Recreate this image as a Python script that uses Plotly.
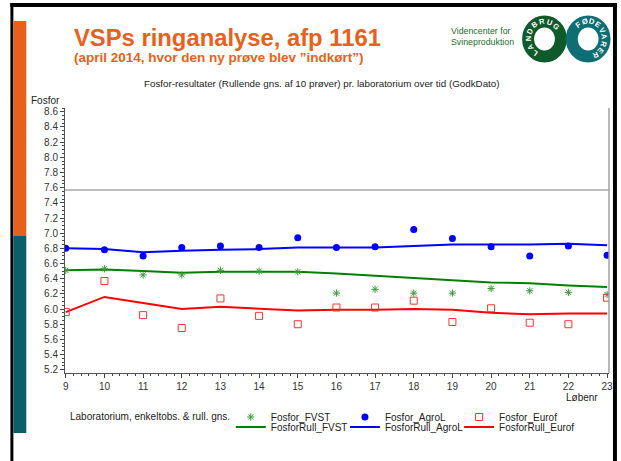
import math
import plotly.graph_objects as go

# Data
loebenr = list(range(9, 24))
fosfor_fvst = [6.51, 6.53, 6.45, 6.45, 6.51, 6.50, 6.49, 6.21, 6.26, 6.21, 6.21, 6.27, 6.24, 6.22, 6.19]
fosfor_agrol = [6.80, 6.78, 6.70, 6.81, 6.83, 6.81, 6.94, 6.81, 6.82, 7.05, 6.93, 6.82, 6.70, 6.83, 6.71]
fosfor_eurof = [5.96, 6.37, 5.92, 5.75, 6.14, 5.91, 5.80, 6.02, 6.02, 6.11, 5.83, 6.01, 5.82, 5.80, 6.15]
rull_fvst = [6.51, 6.52, 6.50, 6.48, 6.49, 6.49, 6.49, 6.47, 6.44, 6.41, 6.38, 6.35, 6.34, 6.31, 6.29]
rull_agrol = [6.80, 6.79, 6.75, 6.77, 6.78, 6.79, 6.81, 6.81, 6.81, 6.83, 6.85, 6.85, 6.85, 6.86, 6.84]
rull_eurof = [5.96, 6.16, 6.08, 6.00, 6.03, 6.01, 5.98, 5.99, 5.99, 6.00, 5.99, 5.95, 5.93, 5.94, 5.94]
graense = 7.57
y_ticks = [5.2, 5.4, 5.6, 5.8, 6.0, 6.2, 6.4, 6.6, 6.8, 7.0, 7.2, 7.4, 7.6, 7.8, 8.0, 8.2, 8.4, 8.6]

# Farben
orange = '#E8611C'
teal = '#0B5F6B'
groen = '#008000'
groen_stjerne = '#3A9A3A'
blaa = '#0000FF'
roed = '#FF0000'
font = 'Liberation Sans, Arial, sans-serif'

W, H = 621, 461
L, R, T, B = 65, 8, 108, 88
PW, PH = W - L - R, H - T - B


# pixel -> paper coordinates
def px(x):
    return (x - L) / PW


def py(y):
    return (H - B - y) / PH


fig = go.Figure()

# rullende gennemsnit (linjer)
fig.add_trace(go.Scatter(x=loebenr, y=rull_fvst, mode='lines', name='FosforRull_FVST',
                         line=dict(color=groen, width=2), legend='legend4'))
fig.add_trace(go.Scatter(x=loebenr, y=rull_agrol, mode='lines', name='FosforRull_AgroL',
                         line=dict(color=blaa, width=2), legend='legend5'))
fig.add_trace(go.Scatter(x=loebenr, y=rull_eurof, mode='lines', name='FosforRull_Eurof',
                         line=dict(color=roed, width=2), legend='legend6'))

# enkeltobservationer
fig.add_trace(go.Scatter(x=loebenr, y=fosfor_fvst, mode='markers', name='Fosfor_FVST',
                         marker=dict(symbol='asterisk-open', size=6, color=groen_stjerne,
                                     line=dict(color=groen_stjerne, width=1)),
                         legend='legend'))
fig.add_trace(go.Scatter(x=loebenr, y=fosfor_agrol, mode='markers', name='Fosfor_AgroL',
                         marker=dict(symbol='circle', size=7, color=blaa),
                         legend='legend2'))
fig.add_trace(go.Scatter(x=loebenr, y=fosfor_eurof, mode='markers', name='Fosfor_Eurof',
                         marker=dict(symbol='square-open', size=7, color='#FF3333',
                                     line=dict(color='#FF3333', width=1)),
                         legend='legend3'))

fig.add_hline(y=graense, line=dict(color='#A8A8A8', width=1.5))

fig.update_xaxes(
    range=[8.98, 23.05], tickmode='linear', tick0=9, dtick=1,
    ticks='outside', ticklen=4, tickcolor='#444', showline=True, linecolor='#555',
    showgrid=False, zeroline=False,
    tickfont=dict(family=font, size=10, color='#333'),
    minor=dict(tick0=9, dtick=0.2, ticks='outside', ticklen=2, tickcolor='#444', showgrid=False),
)
fig.update_yaxes(
    range=[5.157, 8.65], tickmode='array', tickvals=y_ticks,
    ticktext=['%.1f' % v for v in y_ticks],
    ticks='outside', ticklen=4, tickcolor='#444', showline=True, linecolor='#555',
    showgrid=False, zeroline=False,
    tickfont=dict(family=font, size=10, color='#333'),
    minor=dict(tick0=5.2, dtick=0.05, ticks='outside', ticklen=2, tickcolor='#444', showgrid=False),
)

# seks legender, placeret som i originalen
legend_cols = [232, 347, 462]
legend_rows = [417, 427]
leg = {}
for i in range(6):
    key = 'legend' if i == 0 else 'legend%d' % (i + 1)
    leg[key] = dict(x=px(legend_cols[i % 3]), y=py(legend_rows[i // 3]),
                    xanchor='left', yanchor='middle', orientation='h',
                    bgcolor='rgba(0,0,0,0)', borderwidth=0,
                    font=dict(family=font, size=10, color='#222'))

shapes = [
    # ramme top/hoejre
    dict(type='line', xref='paper', yref='paper', x0=0, x1=1, y0=1, y1=1,
         line=dict(color='#A0A0A0', width=1.5)),
    dict(type='line', xref='paper', yref='paper', x0=1, x1=1, y0=0, y1=1,
         line=dict(color='#A0A0A0', width=1.5)),
    # slide-kant
    dict(type='rect', xref='paper', yref='paper', x0=px(10), x1=px(W), y0=py(3), y1=py(7),
         fillcolor='black', line_width=0),
    dict(type='rect', xref='paper', yref='paper', x0=px(10), x1=px(13), y0=py(3), y1=py(H),
         fillcolor='black', line_width=0),
    dict(type='rect', xref='paper', yref='paper', x0=px(617), x1=px(W), y0=py(3), y1=py(H),
         fillcolor='black', line_width=0),
    # farvede bjaelker
    dict(type='rect', xref='paper', yref='paper', x0=px(13), x1=px(26), y0=py(21), y1=py(236),
         fillcolor=orange, line_width=0),
    dict(type='rect', xref='paper', yref='paper', x0=px(13), x1=px(26), y0=py(236), y1=py(433),
         fillcolor=teal, line_width=0),
]

# logo: to ringe
ringe = [(548, 39, '#0F5A2A', 'LANDBRUG', -145, 45),
         (592, 39, '#0E6E74', 'FØDEVARER', -35, 155)]
annotations = []
for cx, cy, farve, tekst, a0, a1 in ringe:
    r = 16.5
    shapes.append(dict(type='circle', xref='paper', yref='paper',
                       x0=px(cx - r), x1=px(cx + r), y0=py(cy + r + 1), y1=py(cy - r - 1),
                       line=dict(color=farve, width=12), fillcolor='rgba(0,0,0,0)'))
    n = len(tekst)
    for k, ch in enumerate(tekst):
        a = a0 + (a1 - a0) * k / (n - 1)
        lx = cx + r * math.sin(math.radians(a))
        ly = cy - (r + 1) * math.cos(math.radians(a))
        annotations.append(dict(text='<b>%s</b>' % ch, x=px(lx), y=py(ly), xref='paper', yref='paper',
                                showarrow=False, textangle=a, xanchor='center', yanchor='middle',
                                font=dict(family=font, size=7.5, color='white')))

annotations += [
    dict(text='<b>VSPs ringanalyse, afp 1161</b>', x=px(72), y=py(37), xref='paper', yref='paper',
         xanchor='left', yanchor='middle', showarrow=False,
         font=dict(family=font, size=23.8, color=orange)),
    dict(text='<b>(april 2014, hvor den ny prøve blev ”indkørt”)</b>', x=px(72), y=py(57),
         xref='paper', yref='paper', xanchor='left', yanchor='middle', showarrow=False,
         font=dict(family=font, size=13.5, color=orange)),
    dict(text='Videncenter for<br>Svineproduktion', x=px(452), y=py(36), xref='paper', yref='paper',
         xanchor='left', yanchor='middle', align='left', showarrow=False,
         font=dict(family=font, size=8.8, color='#236B30')),
    dict(text='Fosfor-resultater (Rullende gns. af 10 prøver) pr. laboratorium over tid (GodkDato)',
         x=px(324), y=py(83), xref='paper', yref='paper', xanchor='center', yanchor='middle',
         showarrow=False, font=dict(family=font, size=9.8, color='#222')),
    dict(text='Fosfor', x=px(62), y=py(100), xref='paper', yref='paper', xanchor='right',
         yanchor='middle', showarrow=False, font=dict(family=font, size=10, color='#222')),
    dict(text='Løbenr', x=px(604), y=py(397), xref='paper', yref='paper', xanchor='right',
         yanchor='middle', showarrow=False, font=dict(family=font, size=10, color='#222')),
    dict(text='Laboratorium, enkeltobs. & rull. gns.', x=px(68), y=py(416.5), xref='paper',
         yref='paper', xanchor='left', yanchor='middle', showarrow=False,
         font=dict(family=font, size=10, color='#222')),
]

fig.update_layout(
    width=W, height=H,
    margin=dict(l=L, r=R, t=T, b=B),
    paper_bgcolor='white', plot_bgcolor='white',
    showlegend=True,
    shapes=shapes,
    annotations=annotations,
    font=dict(family=font),
    **leg,
)

fig.write_html("out.html", config={'displayModeBar': False},
               post_script="document.body.style.margin='0';document.body.style.overflow='hidden';")
